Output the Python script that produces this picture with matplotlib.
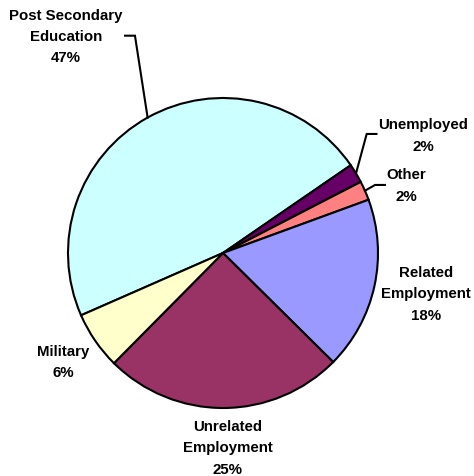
import numpy as np
import matplotlib.pyplot as plt

# outcome shares (%), clockwise from the Post Secondary wedge
categories = ["Post Secondary\nEducation", "Unemployed", "Other",
              "Related\nEmployment", "Unrelated\nEmployment", "Military"]
shares = [47, 2, 2, 18, 25, 6]
colors = ["#CCFFFF", "#660066", "#FF8080", "#9999FF", "#993366", "#FFFFCC"]

# label centre positions (data units, pie radius = 1)
label_pos = [(-1.013, 1.40), (1.29, 0.761), (1.181, 0.439),
             (1.312, -0.261), (0.029, -1.252), (-1.030, -0.700)]
# elbows for leader lines: (elbow point, end of horizontal tick)
leaders = {0: ((-0.568, 1.402), (-0.632, 1.402)),
           1: ((0.927, 0.768), (0.99, 0.768)),
           2: ((0.981, 0.439), (1.045, 0.439))}

fig = plt.figure(figsize=(4.74, 4.77), dpi=100)
ax = fig.add_axes([0, 0, 1, 1])

wedges, _ = ax.pie(shares, colors=colors, startangle=203.7, counterclock=False,
                   radius=1.0, center=(0, 0),
                   wedgeprops=dict(edgecolor="black", linewidth=1.5))

for i, (name, val) in enumerate(zip(categories, shares)):
    x, y = label_pos[i]
    ax.text(x, y, f"{name}\n{val}%", ha="center", va="center",
            multialignment="center", fontsize=10.8, fontweight="bold",
            family=["Liberation Sans", "DejaVu Sans"], linespacing=1.68)
    if i in leaders:
        w = wedges[i]
        mid = np.deg2rad((w.theta1 + w.theta2) / 2)
        ex, ey = np.cos(mid), np.sin(mid)
        (bx, by), (tx, ty) = leaders[i]
        ax.plot([ex, bx, tx], [ey, by, ty], color="black", lw=1.5,
                solid_joinstyle="miter")

ax.set_xlim((0 - 223) / 155, (474 - 223) / 155)
ax.set_ylim((254 - 477) / 155, 254 / 155)
ax.set_aspect("auto")
ax.axis("off")

fig.savefig("out.png", dpi=100, facecolor="white")
